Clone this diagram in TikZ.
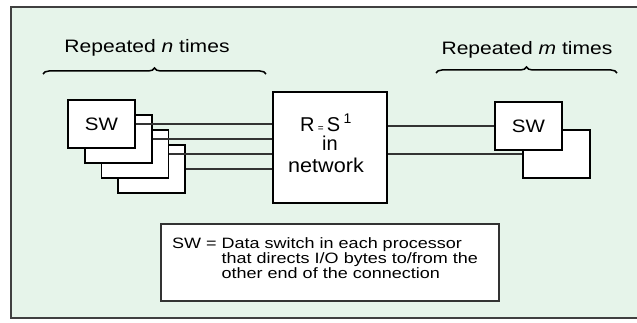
\documentclass[tikz,border=0pt]{standalone}
\usepackage{fontspec}
\setmainfont{Liberation Sans}
\usepackage{xcolor}
\usepackage{tikz}
\usetikzlibrary{positioning, decorations.pathreplacing}
\definecolor{mint}{RGB}{230,244,234}
\newcommand{\widen}[2]{\scalebox{#1}[1]{#2}}

\begin{document}
\begin{tikzpicture}[x=1pt, y=1pt,
  swbox/.style={draw, line width=1.8pt, fill=white, minimum width=67pt, minimum height=48pt, inner sep=0pt},
  link/.style={line width=1.2pt, black!80},
  brc/.style={decorate, decoration={brace, amplitude=6pt}, line width=1.5pt},
  bracelbl/.style={font=\fontsize{18}{20}\selectfont},
  swlbl/.style={font=\fontsize{18}{20}\selectfont},
  nettxt/.style={font=\fontsize{20}{22}\selectfont, inner sep=0pt}]
  \useasboundingbox (0,0) rectangle (637,322);

  % Frame
  \fill[mint] (11,4) rectangle (637,315);
  \draw[line width=1.5pt, black!75] (637,315) -- (11,315) -- (11,4) -- (637,4);

  % Braces and labels
  \draw[brc] (43,248) -- (266,248);
  \node[bracelbl] (repn) at (147,274) {\widen{1.17}{Repeated \textit{n} times}};
  \draw[brc] (436,249) -- (617,249);
  \node[bracelbl] (repm) at (527,272) {\widen{1.17}{Repeated \textit{m} times}};

  % Network
  \node[draw, line width=1.8pt, fill=white, minimum width=114pt, minimum height=111pt] (net) at (330,174.5) {};
  \node[nettxt] (netrs) at (326,199) {R\,{\fontsize{10}{10}\selectfont =}\,S\,\textsuperscript{1}};
  \node[nettxt] (netin) at (330,179) {in};
  \node[nettxt] (netnw) at (326,157) {\widen{1.08}{network}};

  % Switch stack (repeated n times)
  \foreach \k in {3,2,1}
    \node[swbox] (sw\k) at ({101.5+16.7*\k},{198-15*\k}) {};
  \node[swbox, swlbl] (sw0) at (101.5,198) {\widen{1.14}{SW}};
  \foreach \k in {0,...,3}
    \draw[link] (sw\k.east) -- (sw\k.east -| net.west);

  % Switch pair (repeated m times)
  \node[swbox] (swb) at (556.5,168) {};
  \node[swbox, swlbl] (swf) at (528.5,196) {\widen{1.14}{SW}};
  \draw[link] (net.east |- swf.west) -- (swf.west);
  \draw[link] (net.east |- swb.west) -- (swb.west);

  % Legend
  \node[draw, line width=1.2pt, black!80, fill=white, minimum width=338pt, minimum height=77pt] (legend) at (330,59.5) {};
  \node[anchor=base west, inner sep=0pt, font=\fontsize{15}{15}\selectfont] (legtext) at (172,74)
    {\widen{1.2}{\begin{tabular}[t]{@{}l@{\ }l@{}}
      SW = & Data switch in each processor\\
           & that directs I/O bytes to/from the\\
           & other end of the connection
    \end{tabular}}};
\end{tikzpicture}
\end{document}
